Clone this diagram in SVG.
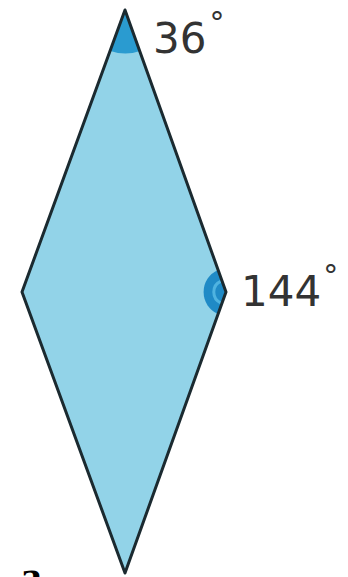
<svg xmlns="http://www.w3.org/2000/svg" width="348" height="577" viewBox="0 0 348 577">
<style>
.lbl{font-family:"DejaVu Sans",sans-serif;font-size:42px;fill:#333}
.deg{font-size:30px}
.edge{fill:none;stroke:#1b2a30;stroke-width:3;stroke-linejoin:round}
</style>
<rect width="348" height="577" fill="#fff"/>
<g id="rhombus">
<polygon points="125,10 226,292 125,573 22,292" fill="#92d3e8"/>
</g>
<g id="angle36">
<path d="M125,10 L110.5,51 A44,44 0 0 0 140,51 Z" fill="#2a9bd0"/>
</g>
<g id="angle144">
<path d="M226,292 L218,270 A24,24 0 0 0 218,314 Z" fill="#1f8ac6"/>
<path d="M221,281 A12,12 0 0 0 221,303" fill="none" stroke="#4fb3e0" stroke-width="3"/>
</g>
<g id="connectors">
<polygon class="edge" points="125,10 226,292 125,573 22,292"/>
</g>
<g id="labels">
<text class="lbl" x="153" y="53">36<tspan class="deg" dx="3" dy="-20">°</tspan></text>
<text class="lbl" x="241" y="306">144<tspan class="deg" dx="2" dy="-20">°</tspan></text>
<text x="20" y="591" font-family="Liberation Serif,serif" font-weight="bold" font-size="44" fill="#000">a</text>
</g>
</svg>
